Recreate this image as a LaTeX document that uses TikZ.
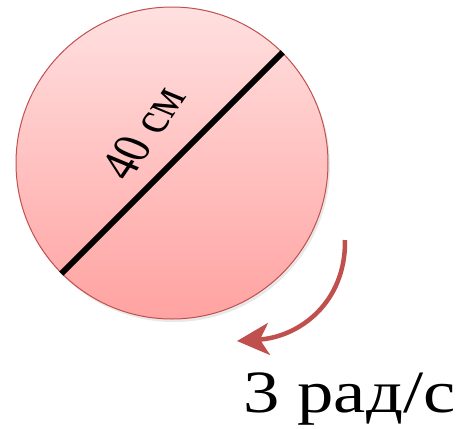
\documentclass[tikz,border=0pt]{standalone}
\usepackage{fontspec}
\setmainfont{Liberation Serif}
\usetikzlibrary{arrows.meta,shadows}
\definecolor{accent}{HTML}{C0504D}
\definecolor{pinktop}{HTML}{FFE0E0}
\definecolor{pinkbot}{HTML}{FFA3A1}
\tikzset{
  wheelstyle/.style={circle, minimum size=312pt, inner sep=0pt, draw=accent, line width=1pt,
    top color=pinktop, bottom color=pinkbot,
    drop shadow={opacity=0.18, shadow xshift=2pt, shadow yshift=-3pt}},
  diam/.style={line width=6pt, black},
  rotarrow/.style={accent, line width=4.5pt, -{Stealth[length=32pt,width=32pt,inset=9pt]}},
  bigtext/.style={font=\fontsize{60}{60}\selectfont, inner sep=0pt, xscale=1.21},
  lbltext/.style={font=\fontsize{42}{42}\selectfont, inner sep=0pt, xscale=1.28}
}
\begin{document}
\begin{tikzpicture}[x=1pt,y=-1pt]
\useasboundingbox (0,0) rectangle (456,429);
\node[wheelstyle] (wheel) at (172,163) {};
\coordinate (d1) at (wheel.225);
\coordinate (d2) at (wheel.45);
\draw[diam] (d1) -- (d2);
\node[lbltext, rotate=62] (dlabel) at (143,133) {40 см};
\coordinate (as) at (345,240);
\coordinate (ae) at (237,341);
\draw[rotarrow] (as) .. controls (346,302) and (300,337) .. (ae);
\node[bigtext, anchor=base west] (speed) at (243,412) {3 рад/с};
\end{tikzpicture}
\end{document}
